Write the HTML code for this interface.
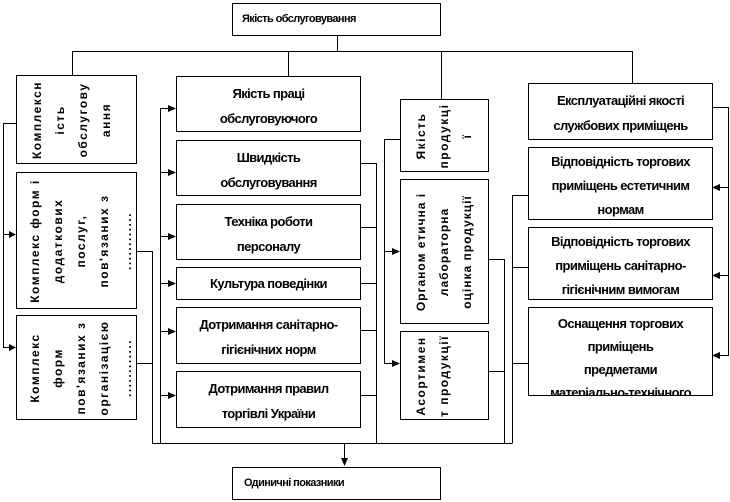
<!DOCTYPE html>
<html><head><meta charset="utf-8"><style>
body{margin:0;width:730px;height:502px;background:#fff;position:relative;overflow:hidden;font-family:"Liberation Sans",sans-serif;}
.b{position:absolute;border:1px solid #000;background:#fff;box-sizing:border-box;overflow:hidden;font-weight:bold;font-size:13px;text-align:center;letter-spacing:-0.6px;color:#000;}
.h{display:flex;flex-direction:column;justify-content:flex-start;padding-top:4px;line-height:25px;}
.v{position:absolute;left:50%;top:50%;transform-origin:center;text-align:center;white-space:nowrap;line-height:23px;letter-spacing:1.5px;font-size:12px;overflow:hidden;}
svg{position:absolute;left:0;top:0;}
</style></head><body>
<svg width="730" height="502">
<g stroke="#000" stroke-width="1" fill="none">
<path d="M337.5 35V51.5M72.5 51.5H632.5M72.5 51V75M288.5 51V76M441.5 51V99M632.5 51V83"/>
<path d="M3.5 123.5H16M3.5 123V347.5H10M3.5 234.5H10"/>
<path d="M160.5 108V443M160 108.5H168M160 172.5H168M160 236.5H168M160 283.5H168M160 331.5H168M160 395.5H168"/>
<path d="M136 251.5H152.5V443.5H512.5M136 363.5H152"/>
<path d="M360 163.5H376.5V443M360 227.5H376M360 283.5H376M360 330.5H376M360 395.5H376"/>
<path d="M400 139.5H384.5V363.5H392M384 251.5H392"/>
<path d="M488 259.5H504.5V443M488 371.5H504"/>
<path d="M528 195.5H512.5V443M528 267.5H512M528 363.5H512"/>
<path d="M712 107.5H728.5V355.5H720M728 187.5H720M728 275.5H720"/>
<path d="M344.5 443V458"/>
</g>
<g fill="#000">
<path d="M16 234.5l-7-3.5v7z M16 347.5l-7-3.5v7z"/>
<path d="M176 108.5l-8-3.5v7zM176 172.5l-8-3.5v7zM176 236.5l-8-3.5v7zM176 283.5l-8-3.5v7zM176 331.5l-8-3.5v7zM176 395.5l-8-3.5v7z"/>
<path d="M400 251.5l-8-3.5v7zM400 363.5l-8-3.5v7z"/>
<path d="M712 187.5l8-3.5v7zM712 275.5l8-3.5v7zM712 355.5l8-3.5v7z"/>
<path d="M344.5 466l-3.5-8h7z"/>
</g>
</svg>

<div class="b" style="left:232px;top:3px;width:209px;height:33px;line-height:31px;text-align:left;padding-left:9px;font-size:11px;letter-spacing:-0.6px">Якість обслуговування</div>
<div class="b" style="left:232px;top:467px;width:209px;height:33px;line-height:31px;text-align:left;padding-left:11px;font-size:11px;letter-spacing:-0.6px">Одиничні показники</div>

<div class="b" style="left:16px;top:75px;width:121px;height:89px"><div class="v" style="width:86px;height:118px;margin-left:-43px;margin-top:-59px;transform:rotate(-90deg);padding-top:8px;box-sizing:border-box">Комплексн<br>ість<br>обслугову<br>ання</div></div>
<div class="b" style="left:16px;top:172px;width:121px;height:137px"><div class="v" style="width:134px;height:118px;margin-left:-67px;margin-top:-59px;transform:rotate(-90deg);padding-top:6px;box-sizing:border-box">Комплекс форм і<br>додаткових<br>послуг,<br>пов'язаних з<br>............</div></div>
<div class="b" style="left:16px;top:315px;width:121px;height:105px"><div class="v" style="width:102px;height:118px;margin-left:-51px;margin-top:-59px;transform:rotate(-90deg);padding-top:6px;box-sizing:border-box">Комплекс<br>форм<br>пов'язаних з<br>організацією<br>............</div></div>

<div class="b h" style="left:176px;top:76px;width:185px;height:56px">Якість праці<br>обслуговуючого</div>
<div class="b h" style="left:176px;top:140px;width:185px;height:56px">Швидкість<br>обслуговування</div>
<div class="b h" style="left:176px;top:204px;width:185px;height:56px">Техніка роботи<br>персоналу</div>
<div class="b h" style="left:176px;top:267px;width:185px;height:33px;padding-top:3px">Культура поведінки</div>
<div class="b h" style="left:176px;top:307px;width:185px;height:57px">Дотримання санітарно-<br>гігієнічних норм</div>
<div class="b h" style="left:176px;top:371px;width:185px;height:57px">Дотримання правил<br>торгівлі України</div>

<div class="b" style="left:400px;top:99px;width:89px;height:73px"><div class="v" style="width:70px;height:86px;margin-left:-35px;margin-top:-43px;transform:rotate(-90deg);padding-top:8px;box-sizing:border-box">Якість<br>продукці<br>ї</div></div>
<div class="b" style="left:400px;top:179px;width:89px;height:145px"><div class="v" style="width:142px;height:86px;margin-left:-71px;margin-top:-43px;transform:rotate(-90deg);padding-top:8px;box-sizing:border-box;letter-spacing:1px">Органом етична і<br>лабораторна<br>оцінка продукції</div></div>
<div class="b" style="left:400px;top:331px;width:89px;height:89px"><div class="v" style="width:86px;height:86px;margin-left:-43px;margin-top:-43px;transform:rotate(-90deg);padding-top:8px;box-sizing:border-box">Асортимен<br>т продукції</div></div>

<div class="b h" style="left:528px;top:83px;width:185px;height:57px">Експлуатаційні якості<br>службових приміщень</div>
<div class="b h" style="left:528px;top:147px;width:185px;height:73px;line-height:24px;padding-top:2px">Відповідність торгових<br>приміщень естетичним<br>нормам</div>
<div class="b h" style="left:528px;top:227px;width:185px;height:73px;line-height:24px;padding-top:2px">Відповідність торгових<br>приміщень санітарно-<br>гігієнічним вимогам</div>
<div class="b h" style="left:528px;top:307px;width:185px;height:89px;line-height:23px;padding-top:4px">Оснащення торгових<br>приміщень<br>предметами<br>матеріально-технічного</div>
</body></html>
